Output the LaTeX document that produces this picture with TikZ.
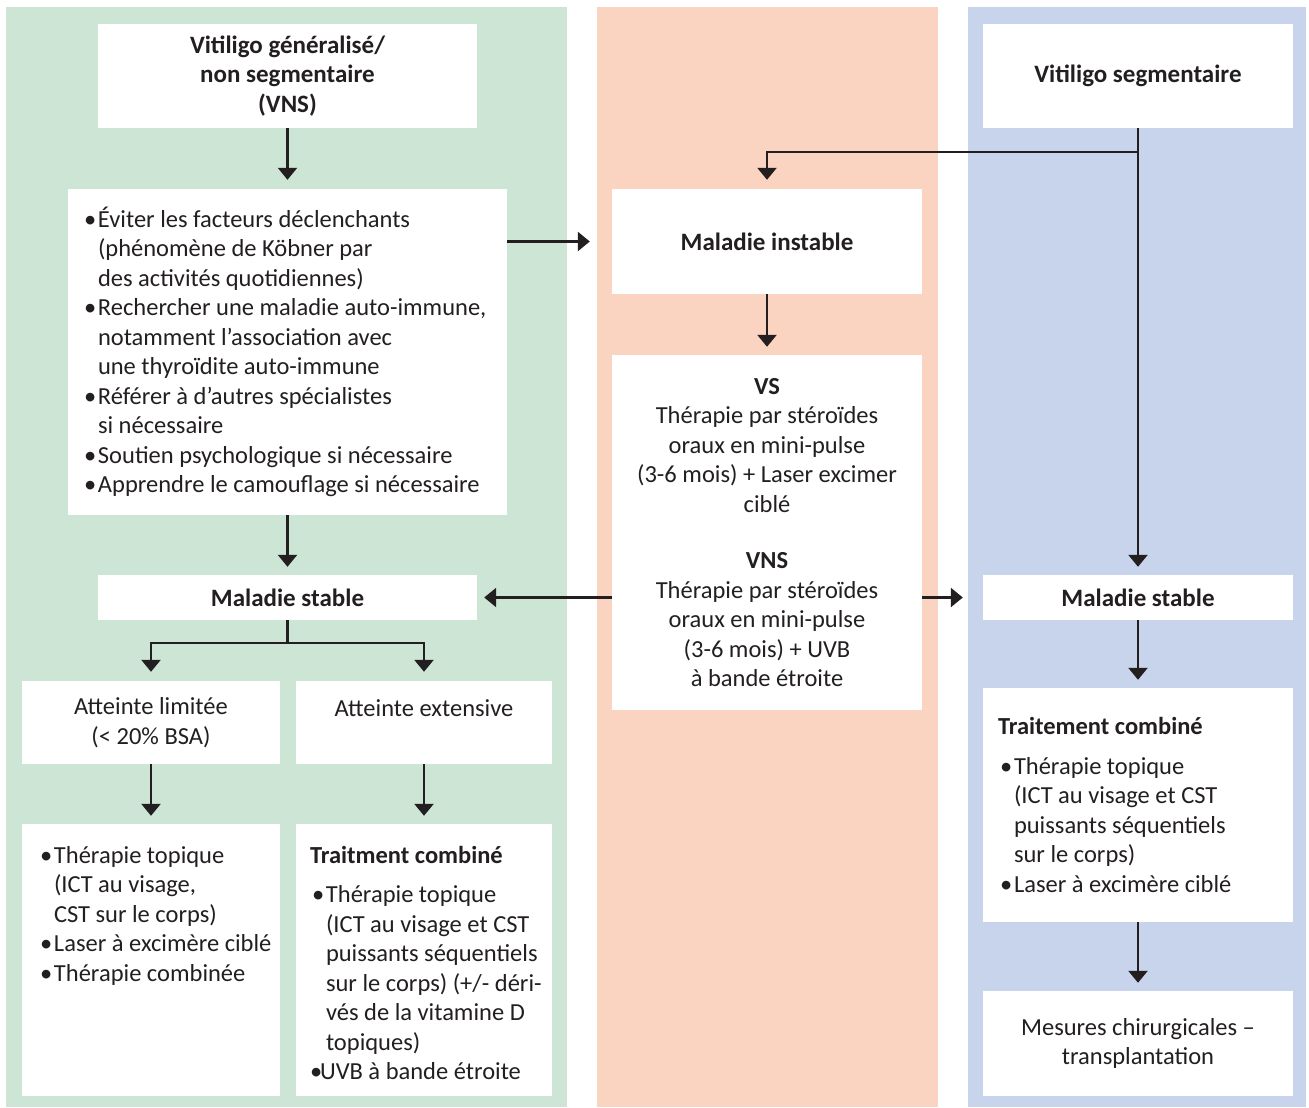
\documentclass[tikz,border=0pt]{standalone}
\usepackage{fontspec}
\setmainfont{Carlito}
\usepackage{xcolor}
\usetikzlibrary{positioning,arrows.meta,calc}

\definecolor{ink}{HTML}{231F20}
\definecolor{vnsgreen}{HTML}{CCE5D5}
\definecolor{instpeach}{HTML}{FBD3C1}
\definecolor{segblue}{HTML}{C7D4EC}

\newcommand{\bul}{\makebox[14pt][l]{•}}
\newcommand{\ind}{\hspace*{14pt}}

\begin{document}
\begin{tikzpicture}[
    x=1pt, y=-1pt,
    font=\fontsize{24.5}{29.5}\selectfont, text=ink,
    box/.style={fill=white, inner sep=0pt, align=center},
    head/.style={font=\fontsize{25}{29.5}\selectfont\bfseries},
    list/.style={inner sep=0pt, align=left},
    arr/.style={-{Triangle[width=19pt,length=12pt]}, line width=2.5pt, draw=ink}
]
\useasboundingbox (0,0) rectangle (1309,1108);

% Column backgrounds
\fill[vnsgreen] (6,7) rectangle (567,1107);
\fill[instpeach] (597,7) rectangle (938,1107);
\fill[segblue] (968,7) rectangle (1306,1107);

% Left column: VNS
\node[box, head, minimum width=379pt, minimum height=104pt] (vns) at (287.5,76) {Vitiligo généralisé/\\non segmentaire\\(VNS)};
\node[box, minimum width=439pt, minimum height=326pt] (conseils) at (287.5,352) {};
\node[list, anchor=west] (conseilstxt) at ([xshift=16pt]conseils.west) {\bul Éviter les facteurs déclenchants\\
  \ind (phénomène de Köbner par\\
  \ind des activités quotidiennes)\\
  \bul Rechercher une maladie auto-immune,\\
  \ind notamment l’association avec\\
  \ind une thyroïdite auto-immune\\
  \bul Référer à d’autres spécialistes\\
  \ind si nécessaire\\
  \bul Soutien psychologique si nécessaire\\
  \bul Apprendre le camouflage si nécessaire};
\node[box, head, minimum width=379pt, minimum height=45pt] (stableg) at (287.5,597.5) {Maladie stable};
\node[box, minimum width=258pt, minimum height=83pt] (limitee) at (151,722.5) {Atteinte limitée\\(< 20\% BSA)};
\node[box, minimum width=256pt, minimum height=83pt] (extensive) at (424,722.5) {Atteinte extensive\\\mbox{}};
\node[box, minimum width=258pt, minimum height=272pt] (trtlim) at (151,960) {};
\node[list, anchor=north west] (trtlimtxt) at ([xshift=18pt,yshift=-22pt]trtlim.north west) {\bul Thérapie topique\\
  \ind (ICT au visage,\\
  \ind CST sur le corps)\\
  \bul Laser à excimère ciblé\\
  \bul Thérapie combinée};
\node[box, minimum width=256pt, minimum height=272pt] (trtext) at (424,960) {};
\node[list, anchor=north west] (trtexttxt) at ([xshift=14pt,yshift=-22pt]trtext.north west) {\textbf{Traitment combiné}\\[10pt]
  \hspace*{2pt}\bul Thérapie topique\\
  \ind\hspace*{2pt}(ICT au visage et CST\\
  \ind\hspace*{2pt}puissants séquentiels\\
  \ind\hspace*{2pt}sur le corps) (+/- déri-\\
  \ind\hspace*{2pt}vés de la vitamine D\\
  \ind\hspace*{2pt}topiques)\\
  \makebox[10pt][l]{•}UVB à bande étroite};

% Middle column: unstable disease
\node[box, head, minimum width=310pt, minimum height=105pt] (instable) at (767,241.5) {Maladie instable};
\node[box, minimum width=310pt, minimum height=355pt] (steroides) at (767,532.5) {\textbf{VS}\\
  Thérapie par stéroïdes\\
  oraux en mini-pulse\\
  (3-6 mois) + Laser excimer\\
  ciblé\\[27pt]
  \textbf{VNS}\\
  Thérapie par stéroïdes\\
  oraux en mini-pulse\\
  (3-6 mois) + UVB\\
  à bande étroite};

% Right column: segmental
\node[box, head, minimum width=310pt, minimum height=104pt] (segm) at (1138,76) {Vitiligo segmentaire};
\node[box, head, minimum width=310pt, minimum height=45pt] (stableb) at (1138,597.5) {Maladie stable};
\node[box, minimum width=310pt, minimum height=234pt] (combine) at (1138,805) {};
\node[list, anchor=west] (combinetxt) at ([xshift=15pt]combine.west) {\textbf{Traitement combiné}\\[10pt]
  \hspace*{2pt}\bul Thérapie topique\\
  \ind\hspace*{2pt}(ICT au visage et CST\\
  \ind\hspace*{2pt}puissants séquentiels\\
  \ind\hspace*{2pt}sur le corps)\\
  \hspace*{2pt}\bul Laser à excimère ciblé};
\node[box, minimum width=310pt, minimum height=105pt] (chir) at (1138,1043.5) {Mesures chirurgicales –\\transplantation};

% Arrows, left column
\draw[arr, shorten >=9pt] (vns) -- (conseils);
\draw[arr, shorten >=8pt] (conseils) -- (stableg);
\coordinate (fork) at ([yshift=-23pt]stableg.south);
\draw[arr, shorten >=9pt] (stableg.south) -- (fork) -| (limitee.north);
\draw[arr, shorten >=9pt] (stableg.south) -- (fork) -| (extensive.north);
\draw[arr, shorten >=8pt] (limitee) -- (trtlim);
\draw[arr, shorten >=8pt] (extensive) -- (trtext);

% Arrows across columns
\draw[arr, shorten >=22pt] (conseils.east |- instable.west) -- (instable.west);
\draw[arr, shorten >=8pt] (instable) -- (steroides);
\draw[arr, shorten >=7pt] (steroides.west |- stableg.east) -- (stableg.east);
\draw[arr, shorten >=20pt] (steroides.east |- stableb.west) -- (stableb.west);

% Arrows, right column
\draw[arr, shorten >=8pt] (segm) -- (stableb);
\coordinate (split) at ([yshift=-24pt]segm.south);
\draw[arr, shorten >=9pt] (split) -| (instable.north);
\draw[arr, shorten >=8pt] (stableb) -- (combine);
\draw[arr, shorten >=8pt] (combine) -- (chir);

\end{tikzpicture}
\end{document}
